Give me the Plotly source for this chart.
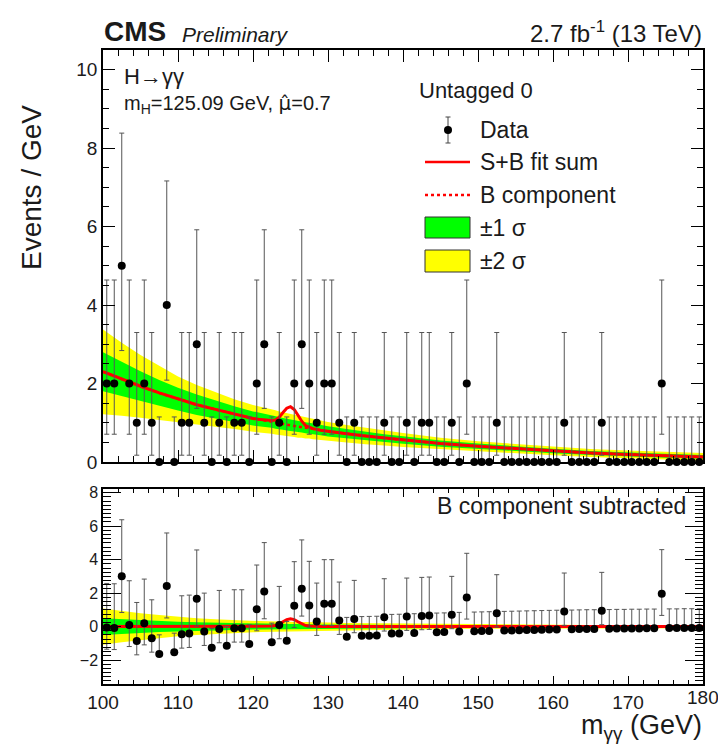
import plotly.graph_objects as go

# ---------------- data ----------------
bin_centers = [100.5 + i for i in range(80)]
counts = [2, 2, 5, 2, 1, 2, 1, 0, 4, 0,
          1, 1, 3, 1, 0, 1, 0, 1, 1, 0,
          2, 3, 0, 1, 0, 2, 3, 2, 1, 2,
          2, 1, 0, 1, 0, 0, 0, 1, 0, 0,
          1, 0, 1, 1, 0, 0, 1, 0, 2, 0,
          0, 0, 1, 0, 0, 0, 0, 0, 0, 0,
          0, 1, 0, 0, 0, 0, 1, 0, 0, 0,
          0, 0, 0, 0, 2, 0, 0, 0, 0, 0]
residuals = [-0.06, -0.08, 3.0, 0.1, -0.86, 0.2, -0.7, -1.64, 2.43, -1.54,
             -0.46, -0.42, 1.66, -0.3, -1.26, -0.14, -1.14, -0.1, -0.1, -1.04,
             1.04, 2.1, -0.94, 0.1, -0.84, 1.24, 2.26, 1.26, 0.3, 1.36,
             1.36, 0.36, -0.6, 0.46, -0.55, -0.54, -0.53, 0.56, -0.42, -0.41,
             0.6, -0.38, 0.64, 0.66, -0.34, -0.33, 0.7, -0.3, 1.74, -0.28,
             -0.27, -0.26, 0.8, -0.24, -0.23, -0.22, -0.21, -0.2, -0.19, -0.18,
             -0.17, 0.9, -0.16, -0.15, -0.14, -0.14, 0.94, -0.13, -0.12, -0.12,
             -0.11, -0.11, -0.1, -0.1, 1.96, -0.09, -0.09, -0.08, -0.08, -0.08]
# 68% Poisson interval edges for n = 0..5
poisson_lo = [0.0, 0.173, 0.708, 1.367, 2.086, 2.840]
poisson_hi = [1.148, 3.300, 4.638, 5.918, 7.163, 8.382]

curve_x = [100, 102.5, 105, 107.5, 110, 112.5, 115, 117.5, 120, 121, 122, 122.5,
           123, 123.5, 124, 124.5, 125, 125.5, 126, 126.5, 127, 127.5, 128, 129,
           130, 132.5, 135, 137.5, 140, 145, 150, 155, 160, 165, 170, 175, 180]
bkg = [2.30, 2.11, 1.93, 1.76, 1.60, 1.46, 1.34, 1.22, 1.11, 1.08, 1.05, 1.03,
       1.01, 0.99, 0.97, 0.95, 0.94, 0.92, 0.90, 0.89, 0.87, 0.86, 0.84, 0.81,
       0.78, 0.72, 0.66, 0.61, 0.56, 0.47, 0.40, 0.34, 0.28, 0.23, 0.19, 0.16, 0.13]
signal = [0, 0, 0, 0, 0, 0, 0, 0, 0, 0, 0.01, 0.03,
          0.06, 0.15, 0.29, 0.42, 0.47, 0.42, 0.29, 0.15, 0.06, 0.03, 0.01, 0,
          0, 0, 0, 0, 0, 0, 0, 0, 0, 0, 0, 0, 0]
band1 = [0.50, 0.44, 0.38, 0.33, 0.29, 0.26, 0.23, 0.20, 0.18, 0.17, 0.17, 0.16,
         0.16, 0.16, 0.15, 0.15, 0.15, 0.15, 0.14, 0.14, 0.14, 0.14, 0.14, 0.13,
         0.13, 0.12, 0.11, 0.10, 0.095, 0.08, 0.07, 0.06, 0.055, 0.05, 0.05, 0.05, 0.05]
band2 = [1.08, 0.93, 0.80, 0.69, 0.58, 0.50, 0.44, 0.38, 0.34, 0.33, 0.32, 0.31,
         0.31, 0.30, 0.30, 0.29, 0.29, 0.28, 0.28, 0.27, 0.27, 0.26, 0.26, 0.25,
         0.24, 0.22, 0.21, 0.19, 0.18, 0.15, 0.13, 0.12, 0.11, 0.10, 0.10, 0.10, 0.10]
x_ticks = [100, 110, 120, 130, 140, 150, 160, 170, 180]

# ---------------- geometry helpers ----------------
W, H = 718, 745
ML, MR, MT, MB = 103, 15, 50, 61
PW, PH = W - ML - MR, H - MT - MB


def px(x):
    return (x - ML) / PW


def py(y):
    return (H - MB - y) / PH


FONT = "Liberation Sans, Arial, Helvetica, sans-serif"
TXT = "#1a1a1a"
GREEN = "#00ff00"
YELLOW = "#ffff00"
RED = "#ff0000"

err_up = [poisson_hi[n] - n for n in counts]
err_dn = [n - poisson_lo[n] for n in counts]
sb = [b + s for b, s in zip(bkg, signal)]


def band_poly(center, half):
    xs = curve_x + curve_x[::-1]
    ys = [c + h for c, h in zip(center, half)] + [c - h for c, h in zip(center, half)][::-1]
    return xs, ys


fig = go.Figure()
zeros = [0.0] * len(curve_x)

for (xa, ya, center) in (("x", "y", bkg), ("x2", "y2", zeros)):
    xs, ys = band_poly(center, band2)
    fig.add_trace(go.Scatter(x=xs, y=ys, fill="toself", fillcolor=YELLOW, mode="lines",
                             line=dict(width=0, color=YELLOW), xaxis=xa, yaxis=ya,
                             hoverinfo="skip", showlegend=False))
    xs, ys = band_poly(center, band1)
    fig.add_trace(go.Scatter(x=xs, y=ys, fill="toself", fillcolor=GREEN, mode="lines",
                             line=dict(width=0, color=GREEN), xaxis=xa, yaxis=ya,
                             hoverinfo="skip", showlegend=False))

# top curves
fig.add_trace(go.Scatter(x=curve_x, y=bkg, mode="lines", line=dict(color=RED, width=2.5, dash="dot"),
                         xaxis="x", yaxis="y", showlegend=False))
fig.add_trace(go.Scatter(x=curve_x, y=sb, mode="lines", line=dict(color=RED, width=3),
                         xaxis="x", yaxis="y", showlegend=False))
# bottom signal curve
fig.add_trace(go.Scatter(x=curve_x, y=signal, mode="lines", line=dict(color=RED, width=3),
                         xaxis="x2", yaxis="y2", showlegend=False))

# data
for (ya, xa, vals) in (("y", "x", counts), ("y2", "x2", residuals)):
    fig.add_trace(go.Scatter(
        x=bin_centers, y=vals, mode="markers", xaxis=xa, yaxis=ya,
        marker=dict(color="black", size=8),
        error_y=dict(type="data", symmetric=False, array=err_up, arrayminus=err_dn,
                     color="#555555", thickness=1, width=2.5),
        cliponaxis=False, showlegend=False))

axis_common = dict(showline=True, linecolor="black", linewidth=1.5, mirror="allticks",
                   ticks="inside", tickcolor="black", tickwidth=1, showgrid=False,
                   zeroline=False, automargin=False,
                   tickfont=dict(family=FONT, size=19, color=TXT))

XR = [100, 180]
# last label (180) is written separately so that it is not dropped at the page edge
x_ticktext = [str(v) for v in x_ticks[:-1]] + [""]
fig.update_layout(
    width=W, height=H, margin=dict(l=ML, r=MR, t=MT, b=MB, autoexpand=False),
    paper_bgcolor="white", plot_bgcolor="white", showlegend=False,
    xaxis=dict(domain=[0, 1], anchor="y", range=XR, tickvals=x_ticks, ticklen=12,
               showticklabels=False,
               minor=dict(dtick=2, tick0=100, ticks="inside", ticklen=6, tickcolor="black"), **axis_common),
    yaxis=dict(domain=[py(462), 1], anchor="x", range=[0, 10.5], tick0=0, dtick=2, ticklen=12,
               minor=dict(dtick=0.5, ticks="inside", ticklen=6, tickcolor="black"), **axis_common),
    xaxis2=dict(domain=[0, 1], anchor="y2", range=XR, tickvals=x_ticks, ticklen=8,
                ticktext=x_ticktext,
                minor=dict(dtick=2, tick0=100, ticks="inside", ticklen=4, tickcolor="black"), **axis_common),
    yaxis2=dict(domain=[0, py(489)], anchor="x2", range=[-3.43, 8.22], tick0=0, dtick=2, ticklen=18,
                minor=dict(dtick=0.25, ticks="inside", ticklen=8, tickcolor="black"), **axis_common),
)
fig.update_layout(yaxis2_tickfont_size=16)

ann = []


def text(x, y, s, size, xanchor="left", bold=False, italic=False, angle=0):
    if bold:
        s = "<b>" + s + "</b>"
    if italic:
        s = "<i>" + s + "</i>"
    ann.append(dict(x=px(x), y=py(y), xref="paper", yref="paper", text=s, showarrow=False,
                    xanchor=xanchor, yanchor="middle", textangle=angle,
                    font=dict(family=FONT, size=size, color=TXT)))


text(102, 32, "CMS", 28, bold=True)
text(180, 35, "Preliminary", 21, italic=True)
text(704, 32, "2.7 fb<sup>-1</sup> (13 TeV)", 24, xanchor="right")
text(122, 77, "H→γγ", 22)
text(122, 104, "m<sub>H</sub>=125.09 GeV, <span style=\"font-family:DejaVu Sans\">μ̂</span>=0.7", 20)
text(417, 90, "Untagged 0", 22)
legend_rows = [("Data", 130), ("S+B fit sum", 162), ("B component", 195), ("±1 σ", 227.5), ("±2 σ", 261)]
for label, yy in legend_rows:
    text(478, yy, label, 23)
text(688, 506, "B component subtracted", 23, xanchor="right")
text(704, 727, "m<sub>γγ</sub> (GeV)", 27, xanchor="right")
text(31, 188, "Events / GeV", 28, xanchor="center", angle=-90)
# tick label for the last x tick, placed on the data axis
ann.append(dict(x=x_ticks[-1], y=0, xref="x2", yref="paper", text=str(x_ticks[-1]), showarrow=False,
                xanchor="center", yanchor="top", yshift=-1,
                font=dict(family=FONT, size=19, color=TXT)))

fig.update_layout(annotations=ann)

shapes = []
# Data glyph
shapes.append(dict(type="line", xref="paper", yref="paper", x0=px(448), x1=px(448), y0=py(117), y1=py(143),
                   line=dict(color="#444", width=1)))
for cy in (117, 143):
    shapes.append(dict(type="line", xref="paper", yref="paper", x0=px(445.5), x1=px(450.5), y0=py(cy), y1=py(cy),
                       line=dict(color="#444", width=1)))
shapes.append(dict(type="circle", xref="paper", yref="paper", x0=px(444), x1=px(452), y0=py(134), y1=py(126),
                   fillcolor="black", line=dict(color="black", width=0)))
shapes.append(dict(type="line", xref="paper", yref="paper", x0=px(425), x1=px(470), y0=py(162), y1=py(162),
                   line=dict(color=RED, width=2.5)))
shapes.append(dict(type="line", xref="paper", yref="paper", x0=px(425), x1=px(470), y0=py(195), y1=py(195),
                   line=dict(color=RED, width=2.5, dash="dot")))
shapes.append(dict(type="rect", xref="paper", yref="paper", x0=px(425), x1=px(470), y0=py(238), y1=py(217),
                   fillcolor=GREEN, line=dict(color="#333", width=1)))
shapes.append(dict(type="rect", xref="paper", yref="paper", x0=px(425), x1=px(470), y0=py(272), y1=py(250),
                   fillcolor=YELLOW, line=dict(color="#333", width=1)))
fig.update_layout(shapes=shapes)

fig.write_html("out.html")
